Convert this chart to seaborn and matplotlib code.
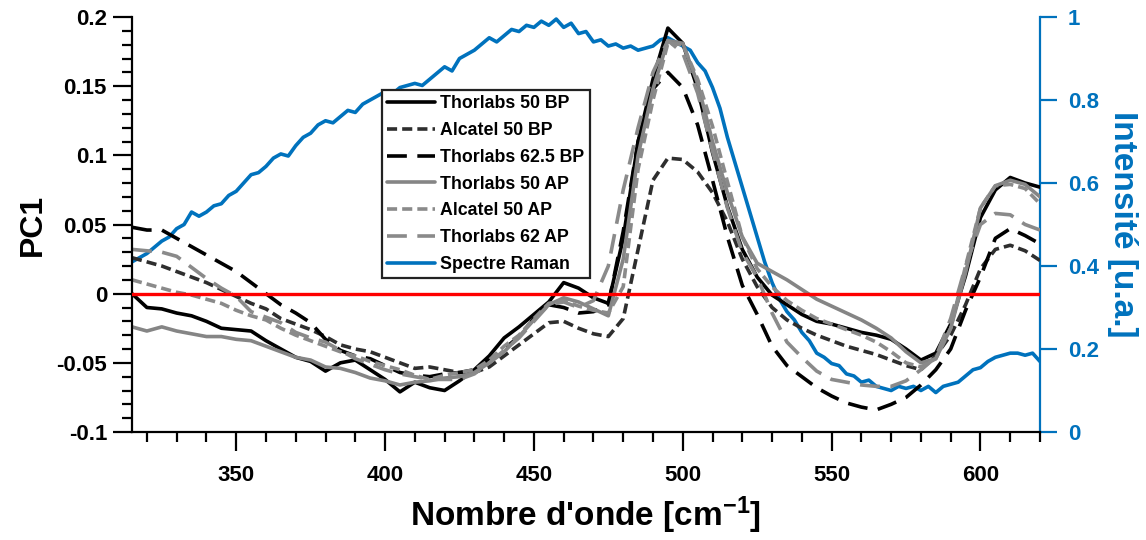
import numpy as np
import pandas as pd
import matplotlib
matplotlib.use("Agg")
import matplotlib.pyplot as plt
from matplotlib.ticker import MultipleLocator, FuncFormatter
import seaborn as sns

# Wavenumber axis (cm^-1) for the PC1 loadings
wavenumber = np.arange(315, 621, 5)

# PC1 loadings for each fibre, before (BP) and after (AP)
thorlabs_50_bp = [0.000, -0.010, -0.011, -0.014, -0.016, -0.020, -0.025, -0.026, -0.027, -0.034,
                  -0.040, -0.046, -0.049, -0.056, -0.050, -0.048, -0.055, -0.062, -0.071, -0.064,
                  -0.068, -0.070, -0.063, -0.055, -0.045, -0.032, -0.024, -0.015, -0.006, 0.008,
                  0.004, -0.003, -0.007, 0.040, 0.110, 0.155, 0.192, 0.181, 0.148, 0.102,
                  0.063, 0.032, 0.012, -0.001, -0.008, -0.015, -0.020, -0.022, -0.025, -0.028,
                  -0.030, -0.033, -0.040, -0.048, -0.043, -0.022, 0.013, 0.055, 0.075, 0.084,
                  0.080, 0.077]
alcatel_50_bp = [0.026, 0.023, 0.020, 0.016, 0.012, 0.008, 0.003, -0.002, -0.007, -0.011,
                 -0.018, -0.022, -0.026, -0.031, -0.037, -0.040, -0.042, -0.046, -0.050, -0.054,
                 -0.053, -0.055, -0.057, -0.057, -0.053, -0.045, -0.037, -0.029, -0.021, -0.020,
                 -0.025, -0.029, -0.031, -0.018, 0.032, 0.082, 0.098, 0.097, 0.088, 0.073,
                 0.052, 0.025, 0.005, -0.010, -0.019, -0.025, -0.030, -0.034, -0.038, -0.041,
                 -0.044, -0.048, -0.052, -0.055, -0.045, -0.030, -0.008, 0.018, 0.032, 0.035,
                 0.031, 0.024]
thorlabs_625_bp = [0.048, 0.046, 0.046, 0.040, 0.034, 0.028, 0.022, 0.016, 0.008, 0.000,
                   -0.008, -0.014, -0.021, -0.033, -0.041, -0.045, -0.047, -0.052, -0.057, -0.059,
                   -0.060, -0.058, -0.057, -0.055, -0.048, -0.040, -0.031, -0.018, -0.008, -0.010,
                   -0.014, -0.013, -0.008, 0.045, 0.110, 0.148, 0.160, 0.149, 0.122, 0.082,
                   0.041, 0.006, -0.015, -0.038, -0.052, -0.060, -0.068, -0.074, -0.079, -0.082,
                   -0.084, -0.080, -0.075, -0.066, -0.055, -0.040, -0.012, 0.012, 0.040, 0.047,
                   0.042, 0.036]
thorlabs_50_ap = [-0.024, -0.027, -0.024, -0.027, -0.029, -0.031, -0.031, -0.033, -0.034, -0.038,
                  -0.042, -0.046, -0.048, -0.053, -0.054, -0.057, -0.061, -0.063, -0.066, -0.064,
                  -0.063, -0.061, -0.060, -0.057, -0.050, -0.042, -0.031, -0.019, -0.008, -0.003,
                  -0.006, -0.011, -0.016, 0.025, 0.100, 0.148, 0.183, 0.181, 0.152, 0.110,
                  0.073, 0.041, 0.022, 0.016, 0.010, 0.003, -0.004, -0.009, -0.014, -0.019,
                  -0.025, -0.032, -0.042, -0.050, -0.047, -0.025, 0.015, 0.062, 0.078, 0.082,
                  0.079, 0.070]
alcatel_50_ap = [0.010, 0.007, 0.004, 0.001, -0.001, -0.004, -0.007, -0.012, -0.016, -0.019,
                 -0.025, -0.030, -0.034, -0.038, -0.042, -0.045, -0.049, -0.052, -0.055, -0.059,
                 -0.062, -0.059, -0.057, -0.055, -0.048, -0.038, -0.030, -0.018, -0.007, -0.005,
                 -0.009, -0.012, -0.014, 0.005, 0.090, 0.140, 0.181, 0.180, 0.155, 0.121,
                 0.081, 0.041, 0.018, 0.005, -0.005, -0.012, -0.018, -0.022, -0.026, -0.030,
                 -0.035, -0.042, -0.050, -0.053, -0.047, -0.025, 0.020, 0.062, 0.078, 0.079,
                 0.076, 0.065]
thorlabs_62_ap = [0.032, 0.031, 0.030, 0.027, 0.019, 0.011, 0.004, -0.002, -0.013, -0.017,
                  -0.021, -0.028, -0.032, -0.035, -0.041, -0.047, -0.051, -0.055, -0.058, -0.060,
                  -0.062, -0.062, -0.062, -0.058, -0.050, -0.041, -0.032, -0.020, -0.008, -0.006,
                  -0.010, -0.005, 0.020, 0.075, 0.120, 0.160, 0.183, 0.174, 0.145, 0.103,
                  0.062, 0.030, 0.012, -0.014, -0.035, -0.046, -0.056, -0.062, -0.064, -0.066,
                  -0.067, -0.067, -0.063, -0.055, -0.046, -0.018, 0.020, 0.050, 0.058, 0.057,
                  0.050, 0.046]

# Normalised Raman spectrum (right axis), sampled every 2.5 cm^-1
raman_wavenumber = np.arange(315, 620.1, 2.5)
raman = [0.41, 0.42, 0.43, 0.445, 0.46, 0.47, 0.49, 0.50, 0.53, 0.52,
         0.53, 0.545, 0.55, 0.57, 0.58, 0.60, 0.62, 0.625, 0.64, 0.66,
         0.67, 0.665, 0.69, 0.71, 0.72, 0.74, 0.75, 0.745, 0.76, 0.775,
         0.77, 0.79, 0.80, 0.81, 0.82, 0.815, 0.83, 0.835, 0.84, 0.835,
         0.85, 0.865, 0.88, 0.87, 0.90, 0.91, 0.92, 0.935, 0.95, 0.94,
         0.955, 0.97, 0.965, 0.98, 0.975, 0.99, 0.98, 0.995, 0.975, 0.985,
         0.96, 0.965, 0.94, 0.945, 0.93, 0.935, 0.925, 0.93, 0.92, 0.925,
         0.93, 0.945, 0.95, 0.94, 0.93, 0.92, 0.89, 0.87, 0.83, 0.78,
         0.71, 0.65, 0.59, 0.53, 0.47, 0.41, 0.36, 0.32, 0.29, 0.27,
         0.24, 0.22, 0.19, 0.18, 0.165, 0.16, 0.14, 0.135, 0.12, 0.125,
         0.11, 0.105, 0.10, 0.11, 0.105, 0.11, 0.10, 0.11, 0.095, 0.11,
         0.115, 0.12, 0.135, 0.15, 0.155, 0.17, 0.18, 0.185, 0.19, 0.19,
         0.185, 0.19, 0.17]

labels = ["Thorlabs 50 BP", "Alcatel 50 BP", "Thorlabs 62.5 BP",
          "Thorlabs 50 AP", "Alcatel 50 AP", "Thorlabs 62 AP"]
series = [thorlabs_50_bp, alcatel_50_bp, thorlabs_625_bp,
          thorlabs_50_ap, alcatel_50_ap, thorlabs_62_ap]

short_dash = (0, (2.8, 1.4))
long_dash = (0, (5.5, 2.9))
styles = [
    dict(color="#000000", linestyle="-"),
    dict(color="#2e2e2e", linestyle=short_dash),
    dict(color="#000000", linestyle=long_dash),
    dict(color="#858585", linestyle="-"),
    dict(color="#8a8a8a", linestyle=short_dash),
    dict(color="#8a8a8a", linestyle=long_dash),
]
BLUE = "#0072BD"

sns.set_theme(style="white")
plt.rcParams["font.family"] = ["Liberation Sans", "DejaVu Sans"]
plt.rcParams["font.weight"] = "bold"
plt.rcParams["axes.labelweight"] = "bold"
plt.rcParams["axes.unicode_minus"] = False
plt.rcParams["text.color"] = "black"
plt.rcParams["axes.labelcolor"] = "black"
plt.rcParams["xtick.color"] = "black"
plt.rcParams["ytick.color"] = "black"
plt.rcParams["mathtext.fontset"] = "custom"
plt.rcParams["mathtext.rm"] = "Liberation Sans:bold"
plt.rcParams["mathtext.default"] = "rm"

fig = plt.figure(figsize=(11.46, 5.40), dpi=100)
ax = fig.add_axes([132 / 1146, 1 - 432 / 540, 908 / 1146, 415 / 540])
ax2 = ax.twinx()
ax.set_zorder(ax2.get_zorder() + 1)
ax.patch.set_visible(False)

lw = 2.6
for vals, lab, st in zip(series, labels, styles):
    sns.lineplot(x=wavenumber, y=vals, ax=ax, label=lab, lw=lw, **st)

sns.lineplot(x=raman_wavenumber, y=raman, ax=ax2, color=BLUE, lw=lw, label="Spectre Raman")
ax.axhline(0, color="#ff0000", lw=2.4, zorder=10)

ax.set_xlim(315, 620)
ax.set_ylim(-0.1, 0.2)
ax2.set_ylim(0, 1)

ax.xaxis.set_major_locator(MultipleLocator(50))
ax.xaxis.set_minor_locator(MultipleLocator(10))
ax.yaxis.set_major_locator(MultipleLocator(0.05))
ax.yaxis.set_minor_locator(MultipleLocator(0.01))
ax2.yaxis.set_major_locator(MultipleLocator(0.2))
fmt = FuncFormatter(lambda v, p: "%g" % round(v, 4))
ax.yaxis.set_major_formatter(fmt)
ax2.yaxis.set_major_formatter(fmt)

ax.tick_params(axis="both", which="major", direction="out", length=14, width=1.6,
               labelsize=16, colors="black", left=True, bottom=True)
ax.tick_params(axis="both", which="minor", direction="out", length=7.5, width=1.6,
               colors="black", left=True, bottom=True)
ax.tick_params(axis="x", pad=10)
ax.tick_params(axis="y", pad=4)
ax2.tick_params(axis="y", which="major", direction="out", length=12, width=1.6,
                labelsize=16, colors=BLUE, right=True, pad=8)

for a in (ax, ax2):
    a.spines["top"].set_visible(False)
    for s in a.spines.values():
        s.set_linewidth(1.6)
ax.spines["left"].set_color("black")
ax.spines["bottom"].set_color("black")
ax.spines["right"].set_visible(False)
ax2.spines["left"].set_visible(False)
ax2.spines["bottom"].set_visible(False)
ax2.spines["right"].set_color(BLUE)

ax.set_xlabel("Nombre d'onde [cm$^{-1}$]", fontsize=24, fontweight="bold",
              color="black", labelpad=6)
ax.set_ylabel("PC1", fontsize=23, fontweight="bold", color="black", labelpad=6)
ax2.set_ylabel("Intensité [u.a.]", fontsize=24, fontweight="bold", color=BLUE,
               rotation=270, labelpad=28)

h1, l1 = ax.get_legend_handles_labels()
h2, l2 = ax2.get_legend_handles_labels()
if ax2.get_legend():
    ax2.get_legend().remove()
leg = ax.legend(h1 + h2, l1 + l2, loc="upper left", bbox_to_anchor=(0.275, 0.824),
                borderaxespad=0, frameon=True, fancybox=False,
                handlelength=2.7, handletextpad=0.3, labelspacing=0.55,
                borderpad=0.3, prop={"weight": "bold", "size": 12.8})
for t in leg.get_texts():
    t.set_color("black")
leg.get_frame().set_edgecolor("#222222")
leg.get_frame().set_linewidth(1.6)
leg.get_frame().set_alpha(1)

fig.savefig("out.png", dpi=100)
